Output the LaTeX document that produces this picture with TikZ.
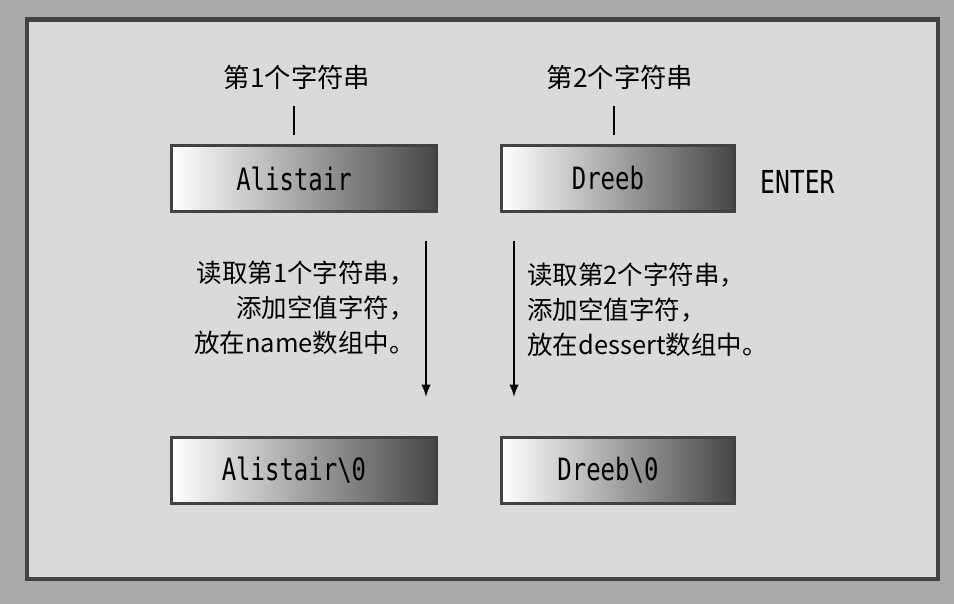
\documentclass[tikz,border=0pt]{standalone}
\usepackage{fontspec}
\usepackage{tikz}
\usetikzlibrary{positioning,arrows.meta}
\setmainfont{Noto Sans CJK SC}
\newfontfamily\boxfont[FakeStretch=0.78]{DejaVu Sans Mono}
\definecolor{bgclr}{RGB}{169,169,169}
\definecolor{panelclr}{RGB}{218,218,218}
\definecolor{edgeclr}{RGB}{66,66,66}
\definecolor{shadeclr}{RGB}{70,70,70}
\tikzset{ %
  ,>={Latex[length=2.5mm,width=1.9mm]}
  ,every node/.style={font=\fontsize{14.5pt}{20pt}\selectfont}
  ,strbox/.style={draw=edgeclr, line width=1.7pt, left color=white, right color=shadeclr, minimum height=1.32cm, inner sep=0, execute at begin node={\kern-0.4cm}, font=\boxfont\fontsize{17.5pt}{20pt}\selectfont}
  ,keytxt/.style={inner sep=0, font=\boxfont\fontsize{18pt}{20pt}\selectfont}
  ,note/.style={inner sep=0}
  ,title/.style={inner sep=0, font=\fontsize{15pt}{20pt}\selectfont}
  ,tick/.style={line width=1pt}
}

\begin{document}
\begin{tikzpicture}[x=0.02cm, y=-0.02cm]
      \useasboundingbox (0,0) rectangle (954,604);
      \fill[bgclr] (0,0) rectangle (954,604);
      \draw[edgeclr, line width=2.3pt, fill=panelclr] (27,19.5) rectangle (938,579);
      \draw
      node[strbox, minimum width=5.3cm] (first) at (304,178.5) {Alistair}
      node[strbox, minimum width=4.66cm, right=1.24cm of first] (second) {Dreeb}
      node[keytxt, right=0.48cm of second, yshift=-0.06cm] (enter) {ENTER}
      node[strbox, minimum width=5.3cm, below=4.46cm of first] (firstz) {Alistair\textbackslash 0}
      node[strbox, minimum width=4.66cm, below=4.46cm of second] (secondz) {Dreeb\textbackslash 0};
      \node[title] (title1) at (297,77) {第1个字符串};
      \node[title] (title2) at (620,77) {第2个字符串};
      \node[note, align=right, anchor=east] (step1) at (415,308) {读取第1个字符串，\\添加空值字符，\\放在name数组中。};
      \node[note, align=left, anchor=west] (step2) at (527,310) {读取第2个字符串，\\添加空值字符，\\放在dessert数组中。};
      \coordinate (t1) at (294,106);
      \coordinate (t2) at (614,106);
      \coordinate (a1) at (426,241);
      \coordinate (a2) at (514,241);
      \draw[tick] (t1) -- ++(0,29);
      \draw[tick] (t2) -- ++(0,29);
      \draw[line width=1pt,->] (a1) -- ++(0,156);
      \draw[line width=1pt,->] (a2) -- ++(0,156);
    \end{tikzpicture}
\end{document}
